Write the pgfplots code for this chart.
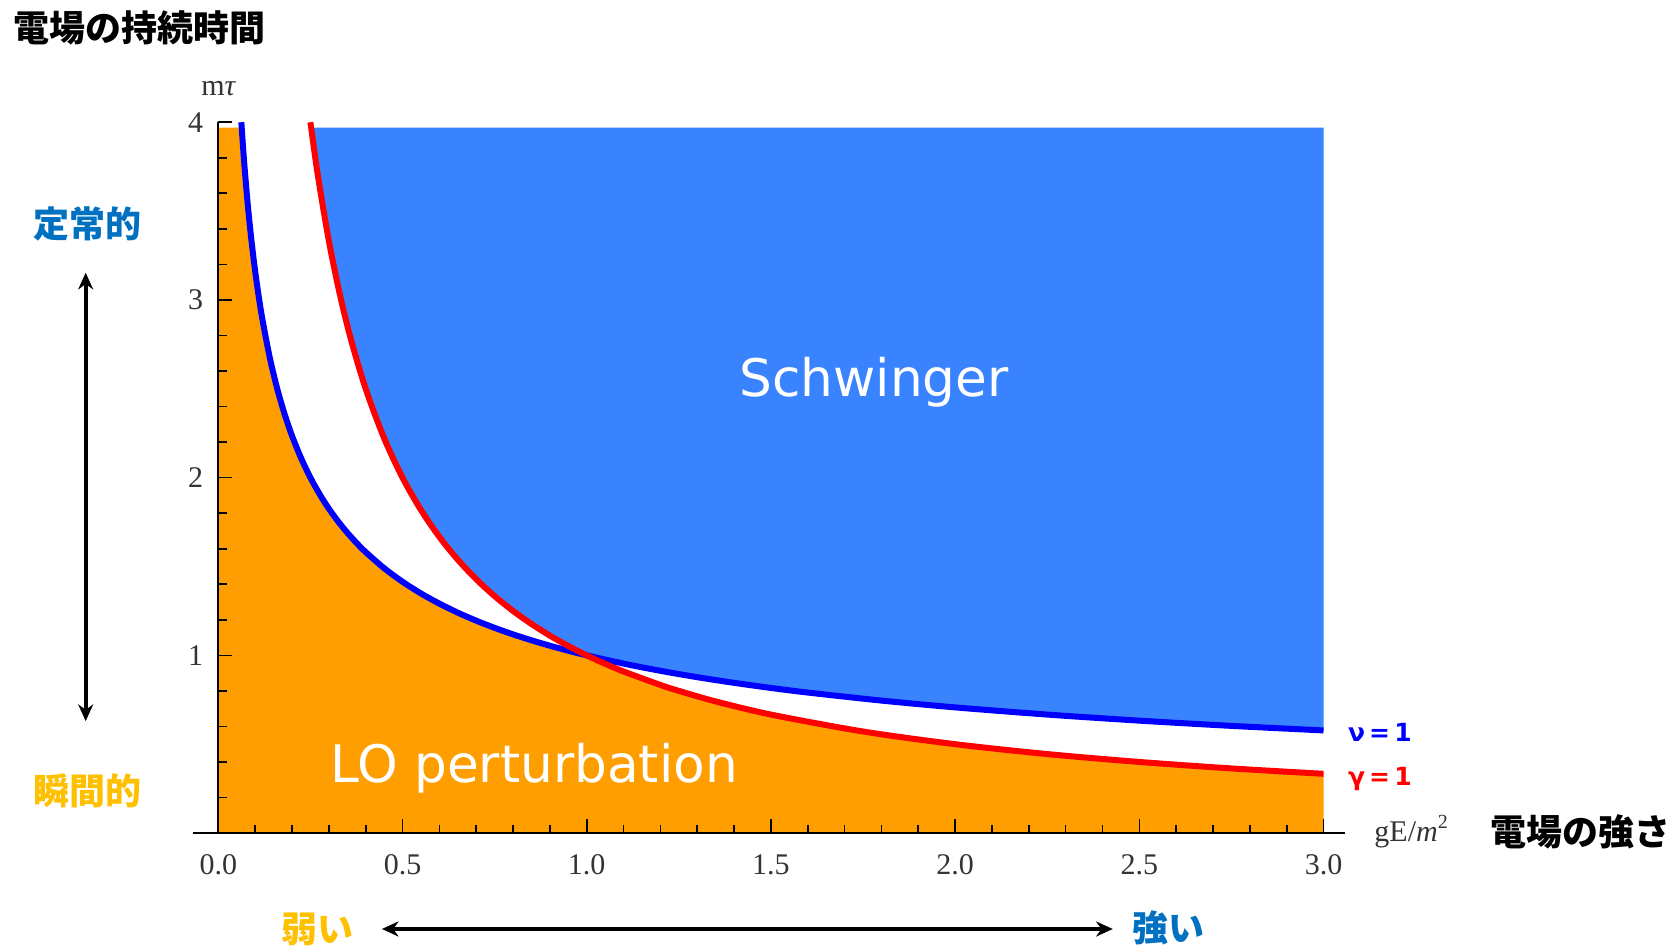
\documentclass[border=0pt]{standalone}
\usepackage{fontspec}
\setmainfont{Liberation Serif}
\newfontfamily\cjk{Noto Sans CJK JP}
\newfontfamily\dejavu{DejaVu Sans}
\usepackage{pgfplots}
\pgfplotsset{compat=1.18}
\usetikzlibrary{arrows.meta}
\definecolor{bluefill}{RGB}{57,131,255}
\definecolor{orangefill}{RGB}{255,158,0}
\definecolor{nublue}{RGB}{0,0,255}
\definecolor{gamred}{RGB}{255,0,0}
\definecolor{jpblue}{RGB}{0,112,192}
\definecolor{jporange}{RGB}{255,192,0}
\begin{document}
\begin{tikzpicture}
\begin{axis}[
  scale only axis, width=331.5pt, height=213.2pt,
  xmin=0, xmax=3, ymin=0, ymax=4,
  axis x line=bottom, axis y line=left,
  axis line style={-, line width=0.6pt, black},
  axis on top, clip=false,
  tick align=inside,
  xtick={0,0.5,1,1.5,2,2.5,3}, minor x tick num=4,
  ytick={1,2,3,4},
  minor ytick={0.2,0.4,0.6,0.8,1.2,1.4,1.6,1.8,2.2,2.4,2.6,2.8,3.2,3.4,3.6,3.8},
  major tick length=4.2pt, minor tick length=2.5pt,
  tick style={line width=0.5pt, black},
  /pgf/number format/assume math mode=true,
  tick label style={font=\fontsize{9}{10}\selectfont, text=black!80},
  x tick label style={/pgf/number format/fixed, /pgf/number format/fixed zerofill, /pgf/number format/precision=1, yshift=-3pt},
  y tick label style={xshift=-1pt},
]
% LO perturbation region (below min of both curves)
\addplot[draw=none, fill=orangefill] coordinates {
 (0,0) (0,3.97) (0.0634,3.97) (0.07,3.7796) (0.08,3.5355) (0.09,3.3333)
 (0.10,3.1623) (0.11,3.0151) (0.12,2.8868) (0.14,2.6726) (0.16,2.5) (0.18,2.3570)
 (0.20,2.2361) (0.225,2.1082) (0.25,2.0) (0.275,1.9069) (0.30,1.8257) (0.325,1.7541)
 (0.35,1.6903) (0.375,1.6330) (0.40,1.5811) (0.45,1.4907) (0.50,1.4142) (0.55,1.3484)
 (0.60,1.2910) (0.65,1.2403) (0.70,1.1952) (0.75,1.1547) (0.80,1.1180) (0.85,1.0847)
 (0.90,1.0541) (0.95,1.0260) (1.00,1.0) (1.05,0.9524) (1.1,0.9091) (1.2,0.8333)
 (1.25,0.8) (1.35,0.7407) (1.5,0.6667) (1.75,0.5714) (2.0,0.5) (2.25,0.4444)
 (2.5,0.4) (2.75,0.3636) (3.0,0.3333) (3,0)
} -- cycle;
% Schwinger region (above max of both curves)
\addplot[draw=none, fill=bluefill] coordinates {
 (0.2519,3.97) (0.27,3.7037) (0.30,3.3333) (0.33,3.0303) (0.36,2.7778)
 (0.40,2.5) (0.45,2.2222) (0.50,2.0) (0.55,1.8182) (0.60,1.6667) (0.65,1.5385)
 (0.70,1.4286) (0.75,1.3333) (0.80,1.25) (0.85,1.1765) (0.90,1.1111) (0.95,1.0526)
 (1.0,1.0) (1.1,0.9535) (1.2,0.9129) (1.3,0.8771) (1.4,0.8452)
 (1.6,0.7906) (1.8,0.7454) (2.0,0.7071) (2.25,0.6667) (2.5,0.6325) (2.75,0.6030)
 (3.0,0.5774) (3.0,3.97)
} -- cycle;
% nu = 1 curve
\addplot[nublue, line width=1.8pt, smooth] coordinates {
 (0.0625,4.0) (0.07,3.7796) (0.08,3.5355) (0.09,3.3333) (0.10,3.1623) (0.11,3.0151)
 (0.12,2.8868) (0.14,2.6726) (0.16,2.5) (0.18,2.3570) (0.20,2.2361) (0.225,2.1082)
 (0.25,2.0) (0.275,1.9069) (0.30,1.8257) (0.325,1.7541) (0.35,1.6903) (0.375,1.6330)
 (0.40,1.5811) (0.45,1.4907) (0.50,1.4142) (0.55,1.3484) (0.60,1.2910) (0.65,1.2403)
 (0.70,1.1952) (0.75,1.1547) (0.80,1.1180) (0.85,1.0847) (0.90,1.0541) (0.95,1.0260)
 (1.00,1.0) (1.1,0.9535) (1.2,0.9129) (1.3,0.8771) (1.4,0.8452) (1.5,0.8165)
 (1.6,0.7906) (1.8,0.7454) (2.0,0.7071) (2.25,0.6667) (2.5,0.6325) (2.75,0.6030)
 (3.0,0.5774)
};
% gamma = 1 curve
\addplot[gamred, line width=1.8pt, smooth] coordinates {
 (0.25,4.0) (0.27,3.7037) (0.30,3.3333) (0.33,3.0303) (0.36,2.7778) (0.40,2.5)
 (0.45,2.2222) (0.50,2.0) (0.55,1.8182) (0.60,1.6667) (0.65,1.5385) (0.70,1.4286)
 (0.75,1.3333) (0.80,1.25) (0.85,1.1765) (0.90,1.1111) (0.95,1.0526) (1.0,1.0)
 (1.05,0.9524) (1.1,0.9091) (1.2,0.8333) (1.25,0.8) (1.35,0.7407) (1.5,0.6667)
 (1.75,0.5714) (2.0,0.5) (2.25,0.4444) (2.5,0.4) (2.75,0.3636) (3.0,0.3333)
};
% axis extension
\draw[line width=0.6pt] (axis cs:-0.069,0) -- (axis cs:0,0);
\draw[line width=0.6pt] (axis cs:3,0) -- (axis cs:3.058,0);
% axis labels
\node[font=\fontsize{9}{10}\selectfont, text=black!80] at (axis cs:0,4.187) {m{\itshape τ}};
\node[font=\fontsize{9}{10}\selectfont, text=black!80] at (axis cs:3.24,0.01) {gE/{\itshape m}\textsuperscript{2}};
% region labels
\node[font=\dejavu\fontsize{15.5}{17}\selectfont, text=white, anchor=base] at (axis cs:1.78,2.456) {Schwinger};
\node[font=\dejavu\fontsize{15.5}{17}\selectfont, text=white, anchor=base] at (axis cs:0.857,0.287) {LO perturbation};
% curve labels
\node[font=\dejavu\bfseries\fontsize{7.5}{9}\selectfont, text=nublue] at (axis cs:3.153,0.568) {ν\,=\,1};
\node[font=\dejavu\bfseries\fontsize{7.5}{9}\selectfont, text=gamred] at (axis cs:3.153,0.304) {γ\,=\,1};
% Japanese annotations
\node[font=\cjk\bfseries\fontsize{10.8}{12}\selectfont, text=black] at (axis cs:-0.214,4.53) {電場の持続時間};
\node[font=\cjk\bfseries\fontsize{10.8}{12}\selectfont, text=black] at (axis cs:3.698,0.008) {電場の強さ};
\node[font=\cjk\bfseries\fontsize{10.8}{12}\selectfont, text=jpblue] at (axis cs:-0.354,3.429) {定常的};
\node[font=\cjk\bfseries\fontsize{10.8}{12}\selectfont, text=jporange] at (axis cs:-0.354,0.236) {瞬間的};
\node[font=\cjk\bfseries\fontsize{10.8}{12}\selectfont, text=jporange] at (axis cs:0.268,-0.545) {弱い};
\node[font=\cjk\bfseries\fontsize{10.8}{12}\selectfont, text=jpblue] at (axis cs:2.58,-0.534) {強い};
\draw[line width=1.1pt, {Stealth[length=5pt,width=4.5pt]}-{Stealth[length=5pt,width=4.5pt]}] (axis cs:-0.36,3.153) -- (axis cs:-0.36,0.63);
\draw[line width=1.1pt, {Stealth[length=5pt,width=4.5pt]}-{Stealth[length=5pt,width=4.5pt]}] (axis cs:0.444,-0.54) -- (axis cs:2.428,-0.54);
\coordinate (bbl) at (axis cs:-0.5926,-0.652);
\coordinate (btr) at (axis cs:3.9622,4.688);
\end{axis}
\pgfresetboundingbox
\useasboundingbox (bbl) rectangle (btr);
\end{tikzpicture}
\end{document}
